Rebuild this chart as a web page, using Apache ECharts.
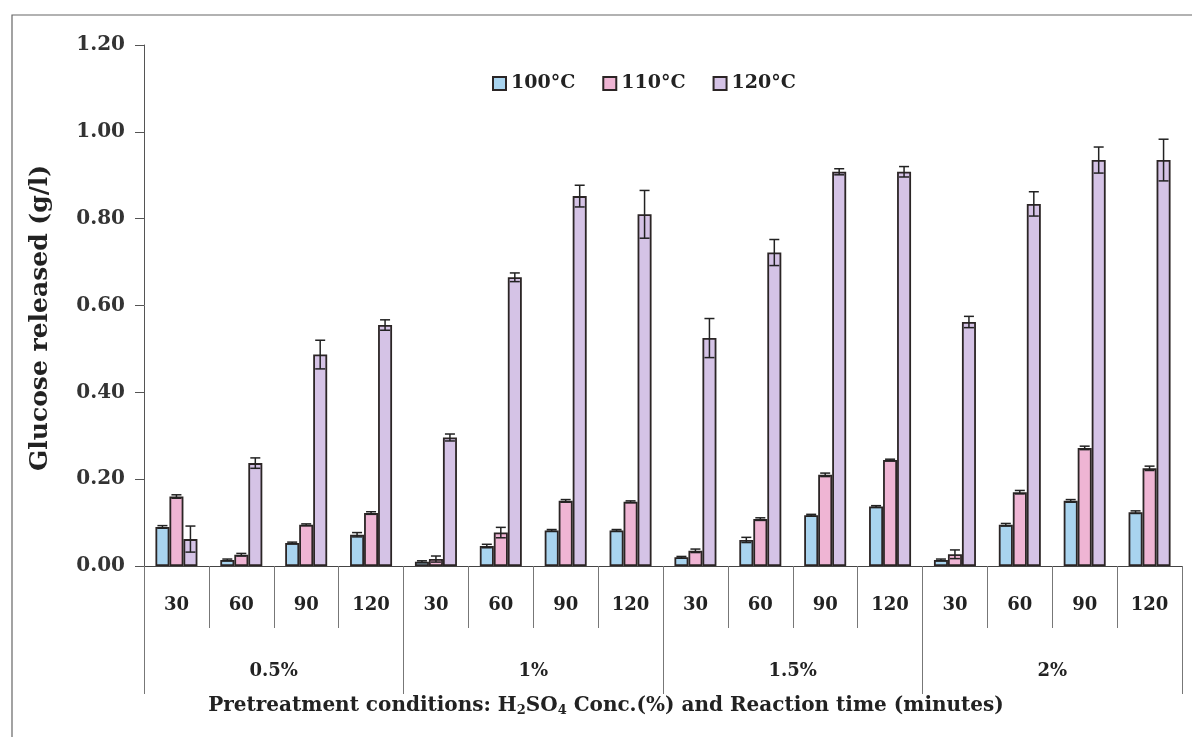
<!DOCTYPE html>
<html><head><meta charset="utf-8">
<script src="https://cdn.jsdelivr.net/npm/echarts@6/dist/echarts.min.js"></script>
<style>html,body{margin:0;padding:0;background:#fff}#c{width:1192px;height:737px}</style>
</head><body><div id="c"></div>
<script>
const times = ['30','60','90','120','30','60','90','120','30','60','90','120','30','60','90','120'];
const concs = ['0.5%','1%','1.5%','2%'];
const seriesNames = ['100°C','110°C','120°C'];
const yTicks = [0,0.2,0.4,0.6,0.8,1.0,1.2];
const v100 = [0.090,0.014,0.053,0.072, 0.010,0.046,0.082,0.082, 0.020,0.060,0.117,0.137, 0.014,0.095,0.150,0.124];
const v110 = [0.160,0.026,0.095,0.122, 0.016,0.077,0.150,0.148, 0.035,0.108,0.210,0.244, 0.027,0.170,0.272,0.225];
const v120 = [0.062,0.237,0.487,0.555, 0.296,0.665,0.852,0.810, 0.525,0.722,0.908,0.908, 0.562,0.834,0.935,0.935];
const e100 = [0.003,0.002,0.002,0.005, 0.002,0.004,0.002,0.002, 0.002,0.006,0.002,0.002, 0.002,0.003,0.003,0.003];
const e110 = [0.004,0.003,0.002,0.003, 0.007,0.012,0.003,0.002, 0.004,0.003,0.004,0.002, 0.010,0.004,0.004,0.005];
const e120 = [0.030,0.012,0.033,0.012, 0.008,0.010,0.025,0.055, 0.045,0.030,0.007,0.012, 0.013,0.028,0.030,0.048];

const vals = [v100,v110,v120];
const errs = [e100,e110,e120];
const colors = ['#a9d4ef','#efb5d4','#d5c3e6'];
const FONT = 'DejaVu Serif';
const BW = 14;

const chart = echarts.init(document.getElementById('c'));
const series = [];
vals.forEach((v,i)=>{
  series.push({
    name: seriesNames[i], type:'bar', data:v, barWidth:BW, barGap:'0%',
    itemStyle:{color:colors[i], borderColor:'#2b2525', borderWidth:1.8},
    z:2
  });
});
vals.forEach((v,i)=>{
  series.push({
    type:'custom', z:5, silent:true,
    data: v.map((y,k)=>[k, y-errs[i][k], y+errs[i][k]]),
    renderItem:function(params, api){
      const k = api.value(0);
      const lo = api.coord([k, api.value(1)]);
      const hi = api.coord([k, api.value(2)]);
      const x = lo[0] + (i-1)*BW;
      const cw = 5;
      return {type:'group', children:[
        {type:'line', shape:{x1:x,y1:lo[1],x2:x,y2:hi[1]}, style:{stroke:'#222',lineWidth:1.5}},
        {type:'line', shape:{x1:x-cw,y1:hi[1],x2:x+cw,y2:hi[1]}, style:{stroke:'#222',lineWidth:1.5}},
        {type:'line', shape:{x1:x-cw,y1:lo[1],x2:x+cw,y2:lo[1]}, style:{stroke:'#222',lineWidth:1.5}}
      ]};
    }
  });
});

chart.setOption({
  animation:false,
  backgroundColor:'#fff',
  textStyle:{fontFamily:FONT},
  grid:{left:144, right:10, top:45, bottom:171},
  legend:{
    data:seriesNames, top:69, left:487, itemWidth:13, itemHeight:13, itemGap:27,
    textStyle:{fontFamily:FONT, fontWeight:'bold', fontSize:19, color:'#222'},
    icon:'rect'
  },
  xAxis:[
    {type:'category', data:times, position:'bottom',
     axisLine:{lineStyle:{color:'#444', width:1}},
     axisTick:{show:true, length:62, lineStyle:{color:'#777'}},
     axisLabel:{margin:30, fontFamily:FONT, fontWeight:'bold', fontSize:18, color:'#222', interval:0}
    },
    {type:'category', data:concs, position:'bottom',
     axisLine:{show:false},
     axisTick:{show:true, length:128, lineStyle:{color:'#777'}},
     axisLabel:{margin:96, fontFamily:FONT, fontWeight:'bold', fontSize:18, color:'#222'}
    }
  ],
  yAxis:{
    type:'value', min:0, max:1.2, interval:0.2,
    splitLine:{show:false},
    axisLine:{show:true, lineStyle:{color:'#555'}},
    axisTick:{show:true, length:9, lineStyle:{color:'#555'}},
    axisLabel:{margin:19, fontFamily:FONT, fontWeight:'bold', fontSize:20, color:'#333',
      formatter:v=>v.toFixed(2)}
  },
  series: series,
  graphic:[
    {type:'polyline', shape:{points:[[12,740],[12,15],[1192,15]]}, style:{stroke:'#666', lineWidth:1.2, fill:null}},
    {type:'text', x:606, y:706, style:{
      text:'{a|Pretreatment conditions: H}{s|2}{a|SO}{s|4}{a| Conc.(%) and Reaction time (minutes)}',
      align:'center', verticalAlign:'middle',
      rich:{
        a:{fontFamily:FONT, fontWeight:'bold', fontSize:20, fill:'#222'},
        s:{fontFamily:FONT, fontWeight:'bold', fontSize:13, fill:'#222', verticalAlign:'bottom', padding:[10,0,0,0]}
      }}},
    {type:'text', x:40, y:318, rotation:Math.PI/2, style:{
      text:'Glucose released (g/l)', align:'center', verticalAlign:'middle',
      fontFamily:FONT, fontWeight:'bold', fontSize:25, fill:'#222'}}
  ]
});
</script></body></html>
